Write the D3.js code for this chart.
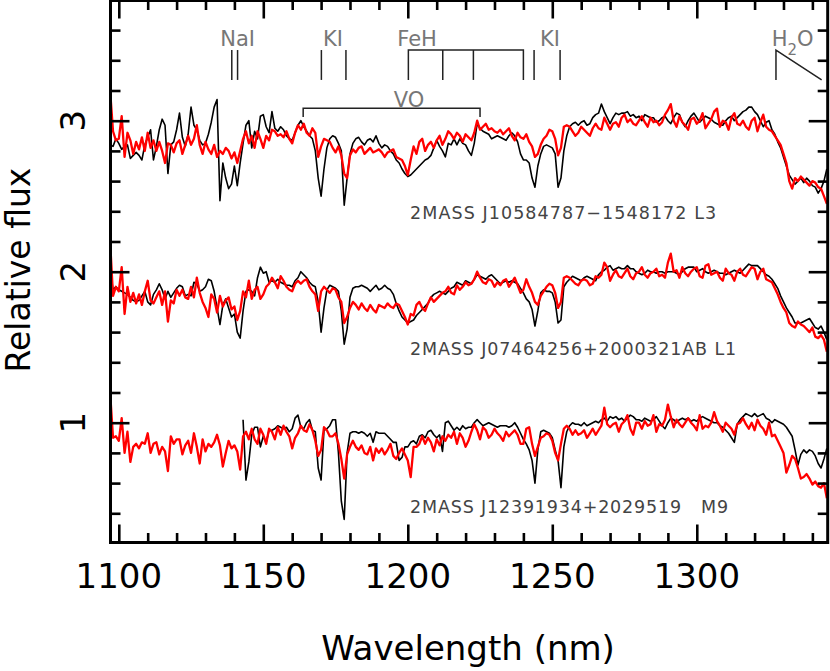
<!DOCTYPE html>
<html>
<head>
<meta charset="utf-8">
<script src="https://cdn.jsdelivr.net/npm/d3@7/dist/d3.min.js"></script>
<style>
  body { margin: 0; background: #fff; }
  svg { display: block; font-family: "DejaVu Sans", sans-serif; }
</style>
</head>
<body>
<div id="chart"></div>
<script>
// spectra sampled on a regular grid: wavelength = WAVE_START + i * WAVE_STEP (nm)
const WAVE_START = 1097, WAVE_STEP = 1;

// 2MASS J10584787-1548172 (L3)
const l3Black = [
  2.84,2.83,2.88,2.85,2.81,2.83,2.84,2.75,2.77,2.79,
  2.77,2.74,2.84,2.89,2.94,2.74,2.83,2.94,3.01,2.97,
  2.65,2.84,2.86,2.94,3.05,2.89,2.83,2.91,3.09,2.97,
  2.94,2.87,2.84,2.85,2.91,2.99,3.09,3.14,2.47,2.72,
  2.62,2.55,2.58,2.70,2.57,2.72,2.85,2.97,3.00,2.82,
  2.93,2.88,3.03,3.04,2.96,2.92,3.06,2.95,2.93,2.96,
  2.94,2.90,2.88,2.87,2.92,2.97,3.00,2.96,2.93,2.90,
  2.88,2.80,2.62,2.50,2.68,2.82,2.88,2.90,2.89,2.85,
  2.80,2.44,2.62,2.78,2.85,2.88,2.89,2.86,2.84,2.87,
  2.88,2.86,2.90,2.85,2.82,2.84,2.83,2.80,2.78,2.74,
  2.72,2.68,2.65,2.63,2.64,2.66,2.68,2.70,2.72,2.74,
  2.75,2.77,2.82,2.87,2.83,2.80,2.76,2.85,2.84,2.88,
  2.84,2.88,2.85,2.84,2.80,2.77,2.85,2.98,2.95,2.93,
  2.92,2.91,2.88,2.89,2.90,2.89,2.88,2.87,2.90,2.92,
  2.90,2.86,2.78,2.74,2.74,2.72,2.62,2.56,2.70,2.78,
  2.83,2.84,2.83,2.82,2.78,2.56,2.62,2.80,2.90,2.96,
  2.98,2.99,2.97,2.99,3.00,2.97,2.98,3.02,3.04,3.05,
  3.11,3.06,3.02,2.98,3.02,3.05,3.04,3.05,3.05,3.06,
  3.03,3.04,3.02,3.03,3.00,3.04,3.03,3.02,3.02,2.99,
  3.00,3.02,3.03,3.00,2.98,3.02,3.05,3.04,2.99,2.96,
  3.00,3.03,3.05,3.02,2.99,3.01,3.03,3.02,3.01,2.99,
  2.98,2.97,2.97,3.00,3.02,3.03,3.00,3.02,3.04,3.06,
  3.07,3.09,3.09,3.06,3.04,3.00,2.96,2.99,3.00,2.94,
  2.91,2.86,2.82,2.76,2.70,2.64,2.61,2.58,2.60,2.62,
  2.59,2.62,2.60,2.57,2.56,2.52,2.55,2.60,2.68
];
const l3Red = [
  3.20,2.93,2.87,2.88,3.03,2.76,2.92,2.87,2.78,2.86,
  2.81,2.89,2.80,2.92,2.82,2.87,2.80,2.86,2.80,2.72,
  2.85,2.84,2.79,2.85,2.87,2.78,2.84,2.90,2.84,2.88,
  2.97,2.84,2.78,2.86,2.81,2.78,2.84,2.76,2.80,2.78,
  2.82,2.80,2.75,2.79,2.72,2.80,2.88,2.93,2.85,2.90,
  2.82,2.93,2.88,2.82,2.90,2.87,2.94,2.93,2.90,2.91,
  2.89,2.93,2.88,2.85,2.92,2.97,2.94,2.98,2.92,2.90,
  2.95,2.92,2.76,2.83,2.88,2.87,2.86,2.82,2.79,2.83,
  2.77,2.65,2.62,2.77,2.81,2.79,2.82,2.83,2.78,2.80,
  2.82,2.79,2.80,2.81,2.79,2.76,2.79,2.80,2.81,2.76,
  2.75,2.74,2.70,2.64,2.74,2.83,2.78,2.86,2.88,2.80,
  2.84,2.86,2.82,2.87,2.90,2.84,2.88,2.93,2.91,2.88,
  2.92,2.90,2.86,2.91,2.89,2.87,2.92,3.00,2.94,2.96,
  2.98,2.94,2.95,2.93,2.92,2.94,2.91,2.93,2.95,2.90,
  2.87,2.92,2.89,2.88,2.91,2.86,2.83,2.76,2.78,2.84,
  2.88,2.90,2.94,2.93,2.88,2.77,2.82,2.96,2.97,2.96,
  2.93,2.90,2.92,2.96,2.94,2.92,2.90,2.95,2.98,2.95,
  2.94,3.02,2.98,2.94,2.98,2.99,2.96,3.02,3.04,2.99,
  3.01,2.98,2.97,3.00,3.03,2.99,2.96,3.02,2.99,3.00,
  2.97,2.99,3.04,3.07,3.11,3.00,2.96,3.03,2.99,2.97,
  2.94,3.01,3.02,2.98,3.00,3.05,2.95,2.98,3.01,3.06,
  3.08,2.96,3.00,2.99,2.94,3.02,3.05,2.98,2.97,3.00,
  2.96,2.94,3.00,3.02,2.93,2.99,3.04,2.96,2.94,2.93,
  2.90,2.87,2.84,2.78,2.72,2.60,2.55,2.62,2.60,2.63,
  2.61,2.59,2.57,2.60,2.59,2.56,2.55,2.50,2.45
];

// 2MASS J07464256+2000321AB (L1)
const l1Black = [
  2.02,1.88,1.90,1.88,1.87,1.86,1.85,1.83,1.81,1.80,
  1.81,1.84,1.87,1.80,1.78,1.85,1.88,1.92,1.88,1.82,
  1.87,1.83,1.86,1.89,1.91,1.90,1.84,1.85,1.84,1.93,
  1.92,1.87,1.88,1.90,1.95,1.94,1.87,1.76,1.65,1.78,
  1.82,1.76,1.70,1.72,1.60,1.56,1.74,1.87,1.88,1.87,
  1.84,1.96,2.03,1.99,2.00,1.93,1.94,1.93,1.95,1.93,
  1.92,1.91,1.91,1.90,1.94,1.96,2.00,1.98,1.96,1.93,
  1.91,1.90,1.80,1.60,1.76,1.88,1.91,1.90,1.89,1.87,
  1.74,1.52,1.62,1.83,1.89,1.90,1.90,1.91,1.90,1.89,
  1.87,1.89,1.91,1.88,1.89,1.91,1.89,1.88,1.85,1.79,
  1.74,1.70,1.68,1.66,1.67,1.68,1.71,1.73,1.75,1.77,
  1.79,1.83,1.85,1.86,1.87,1.86,1.85,1.87,1.89,1.90,
  1.93,1.92,1.91,1.94,1.93,1.92,1.95,1.98,1.97,1.96,
  1.95,1.97,1.98,1.96,1.94,1.92,1.93,1.94,1.93,1.94,
  1.93,1.92,1.89,1.86,1.82,1.80,1.75,1.64,1.74,1.86,
  1.88,1.87,1.87,1.86,1.80,1.66,1.68,1.90,1.93,1.95,
  1.97,1.96,1.95,1.94,1.96,1.97,1.96,1.95,1.94,1.98,
  2.00,2.01,2.03,2.04,2.01,2.02,2.03,2.02,2.02,2.04,
  2.02,2.02,2.00,1.99,1.98,1.99,2.01,2.00,2.00,1.99,
  2.00,2.00,1.99,2.00,2.00,2.00,1.99,1.98,2.00,2.02,
  2.03,2.03,2.03,2.00,2.01,2.02,2.00,1.99,2.00,2.01,
  2.00,1.99,1.99,1.98,1.99,2.00,2.01,2.00,1.99,2.01,
  2.03,2.05,2.04,2.04,2.04,2.02,2.00,1.98,1.97,1.95,
  1.92,1.89,1.84,1.80,1.76,1.73,1.70,1.66,1.66,1.66,
  1.67,1.68,1.69,1.66,1.63,1.62,1.64,1.60,1.55
];
const l1Red = [
  2.20,1.84,1.90,1.87,2.03,1.72,1.90,1.80,1.86,1.79,
  1.85,1.78,1.87,1.94,1.81,1.79,1.83,1.87,1.78,1.87,
  1.67,1.81,1.79,1.88,1.84,1.88,1.83,1.82,1.90,1.83,
  1.96,1.86,1.80,1.76,1.70,1.85,1.82,1.73,1.84,1.77,
  1.81,1.83,1.75,1.77,1.68,1.74,1.87,1.83,1.94,1.82,
  1.88,1.90,1.82,1.85,1.90,1.92,1.96,1.93,1.89,1.97,
  1.94,1.90,1.88,1.87,1.92,1.94,1.92,1.94,1.95,1.90,
  1.87,1.85,1.74,1.87,1.90,1.88,1.86,1.89,1.88,1.83,
  1.80,1.66,1.70,1.76,1.80,1.78,1.75,1.79,1.76,1.74,
  1.78,1.75,1.73,1.78,1.77,1.76,1.79,1.77,1.76,1.79,
  1.78,1.74,1.70,1.65,1.72,1.71,1.78,1.80,1.76,1.74,
  1.79,1.83,1.80,1.82,1.84,1.86,1.87,1.90,1.86,1.85,
  1.91,1.88,1.90,1.93,1.91,1.92,1.95,2.00,1.96,1.93,
  1.92,1.95,1.94,1.90,1.93,1.91,1.94,1.95,1.90,1.93,
  1.96,1.91,1.86,1.88,1.95,1.90,1.86,1.80,1.78,1.84,
  1.87,1.90,1.92,1.91,1.86,1.76,1.80,1.96,1.97,1.96,
  1.94,1.92,1.91,1.94,1.95,1.94,1.91,1.92,1.97,1.96,
  1.98,2.06,2.03,1.94,1.98,2.01,1.97,1.96,1.99,2.02,
  1.97,1.95,1.99,2.00,2.03,1.98,1.96,1.99,2.00,2.02,
  1.97,1.98,1.96,2.06,2.12,2.00,2.01,1.96,2.03,1.99,
  1.97,2.00,2.02,2.03,1.97,1.96,2.04,2.05,1.98,1.99,
  2.00,1.96,1.94,2.02,1.99,1.98,1.94,2.00,2.02,1.98,
  1.97,2.00,2.03,2.02,1.95,2.00,2.02,1.95,1.94,1.93,
  1.89,1.85,1.80,1.76,1.73,1.66,1.64,1.63,1.67,1.65,
  1.64,1.62,1.60,1.63,1.57,1.56,1.58,1.55,1.47
];

// 2MASS J12391934+2029519 (M9); the black spectrum starts near 1143 nm
const m9Black = [
  null,null,null,null,null,null,null,null,null,null,
  null,null,null,null,null,null,null,null,null,null,
  null,null,null,null,null,null,null,null,null,null,
  null,null,null,null,null,null,null,null,null,null,
  null,null,null,null,null,null,
  1.02,0.62,0.74,0.92,0.97,0.97,0.84,0.91,0.87,0.95,
  0.95,0.96,0.98,0.97,0.96,0.97,0.94,0.96,1.03,1.05,
  0.97,0.96,1.00,1.02,0.95,0.94,0.70,0.62,0.95,0.96,
  0.98,1.02,1.02,0.80,0.48,0.36,0.80,0.93,0.94,0.94,
  0.93,0.94,0.93,0.91,0.93,0.87,0.94,0.93,0.93,0.93,
  0.91,0.89,0.87,0.87,0.75,0.77,0.84,0.84,0.87,0.88,
  0.86,0.91,0.92,0.90,0.94,0.95,0.92,0.90,0.92,0.81,
  1.00,1.01,0.98,0.95,0.97,0.95,0.98,0.96,0.97,0.97,
  1.00,1.02,1.00,0.98,0.99,1.00,0.99,0.98,0.97,0.98,
  0.98,0.98,0.97,0.98,1.00,0.97,0.93,0.89,0.86,0.82,
  0.75,0.60,0.82,0.94,0.95,0.94,0.93,0.90,0.82,0.75,
  0.57,0.84,0.94,0.98,1.00,0.99,0.99,0.98,1.00,0.98,
  0.99,1.00,1.01,1.00,1.02,1.03,1.01,1.04,1.03,1.04,
  1.02,1.03,1.01,1.03,1.05,1.04,1.02,1.02,1.01,1.03,
  1.02,1.01,1.02,1.04,1.01,0.98,0.96,1.00,1.03,1.02,
  1.00,1.02,1.03,1.02,1.03,1.01,1.02,1.01,1.03,1.04,
  1.03,1.02,1.01,1.00,1.00,0.98,0.97,0.95,0.93,0.90,
  0.87,0.99,1.02,1.04,1.06,1.05,1.04,1.06,1.04,1.05,
  1.06,1.03,1.02,1.00,1.02,1.01,1.00,0.99,0.97,0.94,
  0.91,0.82,0.72,0.79,0.82,0.80,0.82,0.81,0.78,0.73,
  0.70,0.76,0.83
];
const m9Red = [
  1.20,0.90,0.91,0.88,1.03,0.80,0.94,0.74,0.84,0.86,
  0.83,0.87,0.86,0.93,0.80,0.86,0.87,0.79,0.84,0.81,
  0.68,0.91,0.86,0.89,0.89,0.79,0.85,0.88,0.80,0.93,
  0.84,0.73,0.89,0.81,0.86,0.84,0.87,0.92,0.85,0.71,
  0.80,0.88,0.83,0.85,0.81,0.69,0.91,0.94,0.89,0.96,
  0.89,0.86,0.96,0.92,0.86,0.96,0.94,0.89,0.97,0.92,
  0.98,0.94,0.91,0.83,0.90,0.93,0.98,0.95,0.94,0.99,
  0.95,0.88,0.78,0.82,0.97,0.95,0.91,0.91,0.93,0.86,
  0.76,0.63,0.79,0.84,0.88,0.84,0.82,0.85,0.80,0.79,
  0.84,0.75,0.83,0.80,0.83,0.79,0.82,0.86,0.78,0.76,
  0.80,0.83,0.79,0.75,0.64,0.84,0.84,0.86,0.91,0.86,
  0.90,0.87,0.81,0.89,0.85,0.91,0.88,0.92,0.90,0.94,
  0.86,0.93,0.90,0.84,0.88,0.94,0.99,0.95,0.89,0.97,
  0.95,0.90,0.92,0.96,0.93,0.91,0.88,0.94,0.91,0.93,
  0.95,0.92,0.86,0.86,0.96,0.97,0.86,0.78,0.84,0.90,
  0.91,0.93,0.92,0.88,0.80,0.75,0.86,0.96,0.98,0.96,
  0.92,0.95,0.92,0.93,0.95,0.90,0.93,0.96,0.92,0.95,
  0.98,1.10,0.99,0.97,0.99,1.00,0.94,0.99,1.01,1.05,
  0.96,0.92,1.00,1.00,0.96,1.01,0.98,0.99,1.05,0.94,
  0.99,0.98,1.02,1.12,1.04,0.97,1.02,0.99,0.97,1.00,
  1.03,1.00,0.98,0.95,1.05,0.96,0.98,0.97,1.00,1.07,
  1.01,0.98,0.94,1.00,0.98,0.96,0.92,0.99,1.00,1.03,
  0.99,0.96,1.00,0.95,1.02,0.98,0.96,0.92,1.00,0.91,
  0.92,0.88,0.84,0.80,0.67,0.72,0.78,0.76,0.70,0.63,
  0.64,0.66,0.63,0.59,0.61,0.58,0.57,0.60,0.50
];

const blackSeries = [l3Black, l1Black, m9Black];
const redSeries = [l3Red, l1Red, m9Red];

// object names, with the wavelength / flux where each label starts
const starNames = ["2MASS J10584787\u22121548172 L3", "2MASS J07464256+2000321AB L1", "2MASS J12391934+2029519   M9"];
const starNameWave = [1200.8, 1200.8, 1200.8];
const starNameFlux = [2.347, 1.448, 0.40];

// absorption features (nm)
const lineGroups = [
  {label: "NaI", labelWave: 1141.1, waves: [1139.1, 1141.1]},
  {label: "KI", labelWave: 1174.1, waves: [1170.1, 1178.6]},
  {label: "KI", labelWave: 1249.2, waves: [1243.7, 1252.7]}
];
const fehWaves = [1200.2, 1212.1, 1222.7, 1240.0];
const fehLabelWave = 1203.2;
const voWaves = [1163.8, 1225.0];
const voLabelWave = 1200.4;
const h2oWaves = [1327.4, 1343.2];
const h2oLabelWave = 1325.9;

const xMajor = [1100, 1150, 1200, 1250, 1300];
const xMinor = [1110, 1120, 1130, 1140, 1160, 1170, 1180, 1190, 1210, 1220, 1230, 1240, 1260, 1270, 1280, 1290, 1310, 1320, 1330, 1340];
const yMajor = [1, 2, 3];
const yMinor = [0.4, 0.6, 0.8, 1.2, 1.4, 1.6, 1.8, 2.2, 2.4, 2.6, 2.8, 3.2, 3.4, 3.6];

const W = 830, H = 671;
const plot = {left: 110.5, right: 827.7, top: 0.5, bottom: 542.5};

const svg = d3.select("#chart").append("svg")
    .attr("width", W)
    .attr("height", H);

const x = d3.scaleLinear().domain([1097.13, 1345.3]).range([plot.left, plot.right]);
const y = d3.scaleLinear().domain([0.2066, 3.796]).range([plot.bottom, plot.top]);

svg.append("defs").append("clipPath").attr("id", "plot-clip")
    .append("rect")
    .attr("x", plot.left).attr("y", plot.top)
    .attr("width", plot.right - plot.left).attr("height", plot.bottom - plot.top);

const line = d3.line()
    .defined(d => d != null)
    .x((d, i) => x(WAVE_START + i * WAVE_STEP))
    .y(d => y(d));

const spectra = svg.append("g").attr("clip-path", "url(#plot-clip)");

blackSeries.forEach(s => {
    spectra.append("path")
        .datum(s)
        .attr("d", line)
        .attr("fill", "none")
        .attr("stroke", "#000")
        .attr("stroke-width", 1.6)
        .attr("stroke-linejoin", "round");
});
redSeries.forEach(s => {
    spectra.append("path")
        .datum(s)
        .attr("d", line)
        .attr("fill", "none")
        .attr("stroke", "#ff0000")
        .attr("stroke-width", 2.3)
        .attr("stroke-linejoin", "round");
});

// ticks on all four sides, pointing inward
function tickAxis(axis, values, size, transform) {
    const g = svg.append("g")
        .attr("transform", transform)
        .call(axis.tickValues(values).tickSize(-size).tickFormat(""));
    g.select(".domain").remove();
    g.selectAll(".tick line").attr("stroke", "#000").attr("stroke-width", 2.6);
}
tickAxis(d3.axisBottom(x), xMajor, 18, `translate(0,${plot.bottom})`);
tickAxis(d3.axisBottom(x), xMinor, 9.5, `translate(0,${plot.bottom})`);
tickAxis(d3.axisTop(x), xMajor, 18, `translate(0,${plot.top})`);
tickAxis(d3.axisTop(x), xMinor, 9.5, `translate(0,${plot.top})`);
tickAxis(d3.axisLeft(y), yMajor, 19, `translate(${plot.left},0)`);
tickAxis(d3.axisLeft(y), yMinor, 10, `translate(${plot.left},0)`);
tickAxis(d3.axisRight(y), yMajor, 19, `translate(${plot.right},0)`);
tickAxis(d3.axisRight(y), yMinor, 10, `translate(${plot.right},0)`);

svg.append("rect")
    .attr("x", plot.left).attr("y", plot.top)
    .attr("width", plot.right - plot.left).attr("height", plot.bottom - plot.top)
    .attr("fill", "none")
    .attr("stroke", "#000")
    .attr("stroke-width", 3);

// tick labels
svg.append("g").selectAll("text")
    .data(xMajor)
    .join("text")
    .attr("x", d => x(d))
    .attr("y", 588.3)
    .attr("text-anchor", "middle")
    .attr("font-size", 34)
    .text(d => d);

svg.append("g").selectAll("text")
    .data(yMajor)
    .join("text")
    .attr("transform", d => `translate(85,${y(d)}) rotate(-90)`)
    .attr("text-anchor", "middle")
    .attr("font-size", 34)
    .text(d => d);

// axis titles
svg.append("text")
    .attr("x", 468)
    .attr("y", 660)
    .attr("text-anchor", "middle")
    .attr("font-size", 34)
    .text("Wavelength (nm)");

svg.append("text")
    .attr("transform", "translate(30,270) rotate(-90)")
    .attr("text-anchor", "middle")
    .attr("font-size", 33)
    .text("Relative flux");

// object names
const nameWidths = [306, 326, 318];
svg.append("g").selectAll("text")
    .data(starNames)
    .join("text")
    .attr("x", (d, i) => x(starNameWave[i]))
    .attr("y", (d, i) => y(starNameFlux[i]))
    .attr("font-size", 17.5)
    .attr("fill", "#444")
    .attr("textLength", (d, i) => nameWidths[i])
    .attr("lengthAdjust", "spacing")
    .style("white-space", "pre")
    .text(d => d);

// feature markers
const ann = svg.append("g");
const markTop = 3.468, markBottom = 3.27, labelBase = 3.495;
const labelColor = "#777", markColor = "#222";

lineGroups.forEach(g => {
    g.waves.forEach(w => {
        ann.append("line")
            .attr("x1", x(w)).attr("x2", x(w))
            .attr("y1", y(markTop)).attr("y2", y(markBottom))
            .attr("stroke", markColor).attr("stroke-width", 1.5);
    });
    ann.append("text")
        .attr("x", x(g.labelWave)).attr("y", y(labelBase))
        .attr("text-anchor", "middle")
        .attr("font-size", 21)
        .attr("fill", labelColor)
        .text(g.label);
});

// FeH bracket
ann.append("path")
    .attr("d", d3.line()([[x(fehWaves[0]), y(markBottom)], [x(fehWaves[0]), y(markTop)], [x(fehWaves[3]), y(markTop)], [x(fehWaves[3]), y(markBottom)]]))
    .attr("fill", "none").attr("stroke", markColor).attr("stroke-width", 1.5);
fehWaves.slice(1, 3).forEach(w => {
    ann.append("line")
        .attr("x1", x(w)).attr("x2", x(w))
        .attr("y1", y(markTop)).attr("y2", y(markBottom))
        .attr("stroke", markColor).attr("stroke-width", 1.5);
});
ann.append("text")
    .attr("x", x(fehLabelWave)).attr("y", y(labelBase))
    .attr("text-anchor", "middle")
    .attr("font-size", 21)
    .attr("fill", labelColor)
    .text("FeH");

// VO bracket
const voTop = 3.082, voBottom = 3.024;
ann.append("path")
    .attr("d", d3.line()([[x(voWaves[0]), y(voBottom)], [x(voWaves[0]), y(voTop)], [x(voWaves[1]), y(voTop)], [x(voWaves[1]), y(voBottom)]]))
    .attr("fill", "none").attr("stroke", markColor).attr("stroke-width", 1.5);
ann.append("text")
    .attr("x", x(voLabelWave)).attr("y", y(3.094))
    .attr("text-anchor", "middle")
    .attr("font-size", 21)
    .attr("fill", labelColor)
    .text("VO");

// H2O band edge
ann.append("path")
    .attr("d", d3.line()([[x(h2oWaves[0]), y(markBottom)], [x(h2oWaves[0]), y(markTop)], [x(h2oWaves[1]), y(markBottom)]]))
    .attr("fill", "none").attr("stroke", markColor).attr("stroke-width", 1.5);
const h2o = ann.append("text")
    .attr("x", x(h2oLabelWave)).attr("y", y(labelBase))
    .attr("font-size", 21)
    .attr("fill", labelColor);
h2o.append("tspan").text("H");
h2o.append("tspan").attr("dy", 9).attr("font-size", 15).text("2");
h2o.append("tspan").attr("dy", -9).text("O");
</script>
</body>
</html>
